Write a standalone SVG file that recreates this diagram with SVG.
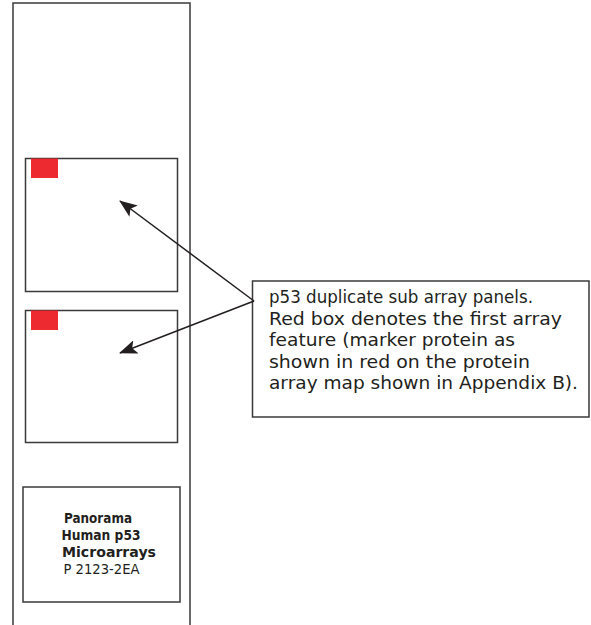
<svg xmlns="http://www.w3.org/2000/svg" width="591" height="625" viewBox="0 0 591 625">
<style>
.frame{fill:#fff;stroke:#3a3a3a;stroke-width:1.5}
.red{fill:#ec2a2f}
.conn{stroke:#231f20;stroke-width:1.5;fill:none}
.t{font-family:"DejaVu Sans","Open Sans",sans-serif;fill:#231f20}
</style>
<defs>
<marker id="ahb" viewBox="0 0 18 14" refX="17" refY="7" markerWidth="18" markerHeight="14" markerUnits="userSpaceOnUse" orient="auto">
<path d="M0,0 L18,7 L0,14 L4,7 Z" fill="#231f20"/>
</marker>
</defs>
<g id="slide"><path class="frame" d="M13,626 V3 H190 V626"/></g>
<g id="panel1"><rect class="frame" x="25.5" y="158.5" width="152" height="133"/><rect class="red" x="31" y="158.5" width="27" height="19.5"/></g>
<g id="panel2"><rect class="frame" x="25.5" y="310.5" width="152" height="132"/><rect class="red" x="31" y="310.5" width="27" height="19.5"/></g>
<g id="label"><rect class="frame" x="23" y="487" width="157" height="115"/>
<text class="t" font-size="13.5" font-weight="bold"><tspan x="64" y="523" textLength="68" lengthAdjust="spacingAndGlyphs">Panorama</tspan><tspan x="61.5" y="540" textLength="79" lengthAdjust="spacingAndGlyphs">Human p53</tspan><tspan x="62" y="557" textLength="94" lengthAdjust="spacingAndGlyphs">Microarrays</tspan></text>
<text class="t" font-size="13.5" x="63.5" y="574" textLength="76" lengthAdjust="spacingAndGlyphs">P 2123-2EA</text></g>
<g id="callout"><rect class="frame" x="252.5" y="281" width="336.5" height="136"/>
<text class="t" font-size="18"><tspan x="269" y="303" textLength="264" lengthAdjust="spacingAndGlyphs">p53 duplicate sub array panels.</tspan><tspan x="269" y="324.5" textLength="293" lengthAdjust="spacingAndGlyphs">Red box denotes the first array</tspan><tspan x="269" y="346" textLength="246" lengthAdjust="spacingAndGlyphs">feature (marker protein as</tspan><tspan x="269" y="367.5" textLength="261" lengthAdjust="spacingAndGlyphs">shown in red on the protein</tspan><tspan x="269" y="389" textLength="309" lengthAdjust="spacingAndGlyphs">array map shown in Appendix B).</tspan></text></g>
<g id="connectors">
<line class="conn" x1="254" y1="301" x2="120" y2="201" marker-end="url(#ahb)"/>
<line class="conn" x1="254" y1="301" x2="120" y2="353" marker-end="url(#ahb)"/>
</g>
</svg>
